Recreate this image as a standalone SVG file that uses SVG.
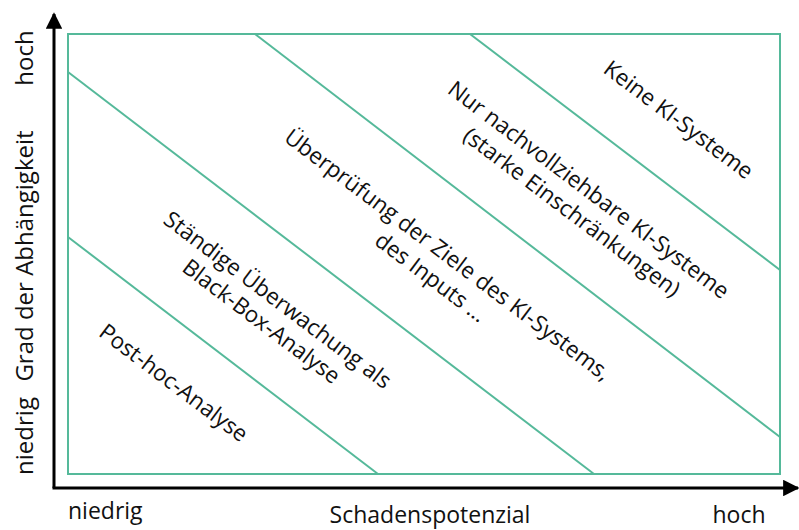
<svg xmlns="http://www.w3.org/2000/svg" width="799" height="530" viewBox="0 0 799 530">
  <style>
    .zone { fill: none; stroke: #55b99a; stroke-width: 2; }
    .axis { fill: none; stroke: #000; stroke-width: 3; }
    .lbl { font-family: "Open Sans", "Noto Sans", sans-serif; font-size: 22.5px; fill: #111; }
    .ax { font-family: "Open Sans", "Noto Sans", sans-serif; font-size: 23px; fill: #111; }
    .axv { font-family: "Open Sans", "Noto Sans", sans-serif; font-size: 24px; fill: #111; }
  </style>
  <defs>
    <marker id="arrow" viewBox="0 0 10 10" refX="9" refY="5" markerWidth="5.5" markerHeight="5.5" orient="auto" markerUnits="strokeWidth">
      <path d="M0,0 L10,5 L0,10 z" fill="#000"/>
    </marker>
  </defs>
  <rect width="799" height="530" fill="#fff"/>

  <g id="connectors">
    <line class="axis" x1="54" y1="488" x2="54" y2="14" marker-end="url(#arrow)"/>
    <line class="axis" x1="52.5" y1="488" x2="798" y2="488" marker-end="url(#arrow)"/>
    <rect class="zone" x="68" y="34" width="712" height="440"/>
    <line class="zone" x1="68" y1="237" x2="378" y2="474"/>
    <line class="zone" x1="68" y1="72" x2="594" y2="474"/>
    <line class="zone" x1="255" y1="34" x2="780" y2="437"/>
    <line class="zone" x1="470" y1="34" x2="780" y2="270"/>
  </g>

  <g id="axis-labels">
    <text class="axv" transform="translate(33,58) rotate(-90)" text-anchor="middle">hoch</text>
    <text class="axv" transform="translate(33,256) rotate(-90)" text-anchor="middle">Grad der Abhängigkeit</text>
    <text class="axv" transform="translate(33,436) rotate(-90)" text-anchor="middle">niedrig</text>
    <text class="ax" x="68" y="519">niedrig</text>
    <text class="ax" x="430" y="523" text-anchor="middle">Schadenspotenzial</text>
    <text class="ax" x="739" y="523" text-anchor="middle">hoch</text>
  </g>

  <g id="zone-keine">
    <text class="lbl" transform="translate(674,126) rotate(37)" text-anchor="middle">Keine KI-Systeme</text>
  </g>
  <g id="zone-nachvollziehbar">
    <text class="lbl" transform="translate(584,196) rotate(37)" text-anchor="middle"><tspan x="0" y="0">Nur nachvollziehbare KI-Systeme</tspan><tspan x="0" y="28">(starke Einschränkungen)</tspan></text>
  </g>
  <g id="zone-ueberpruefung">
    <text class="lbl" transform="translate(443,261) rotate(37)" text-anchor="middle"><tspan x="0" y="0">Überprüfung der Ziele des KI-Systems,</tspan><tspan x="0" y="28">des Inputs …</tspan></text>
  </g>
  <g id="zone-ueberwachung">
    <text class="lbl" transform="translate(273,306) rotate(37)" text-anchor="middle"><tspan x="0" y="0">Ständige Überwachung als</tspan><tspan x="0" y="27">Black-Box-Analyse</tspan></text>
  </g>
  <g id="zone-posthoc">
    <text class="lbl" transform="translate(169,389) rotate(37)" text-anchor="middle">Post-hoc-Analyse</text>
  </g>
</svg>
